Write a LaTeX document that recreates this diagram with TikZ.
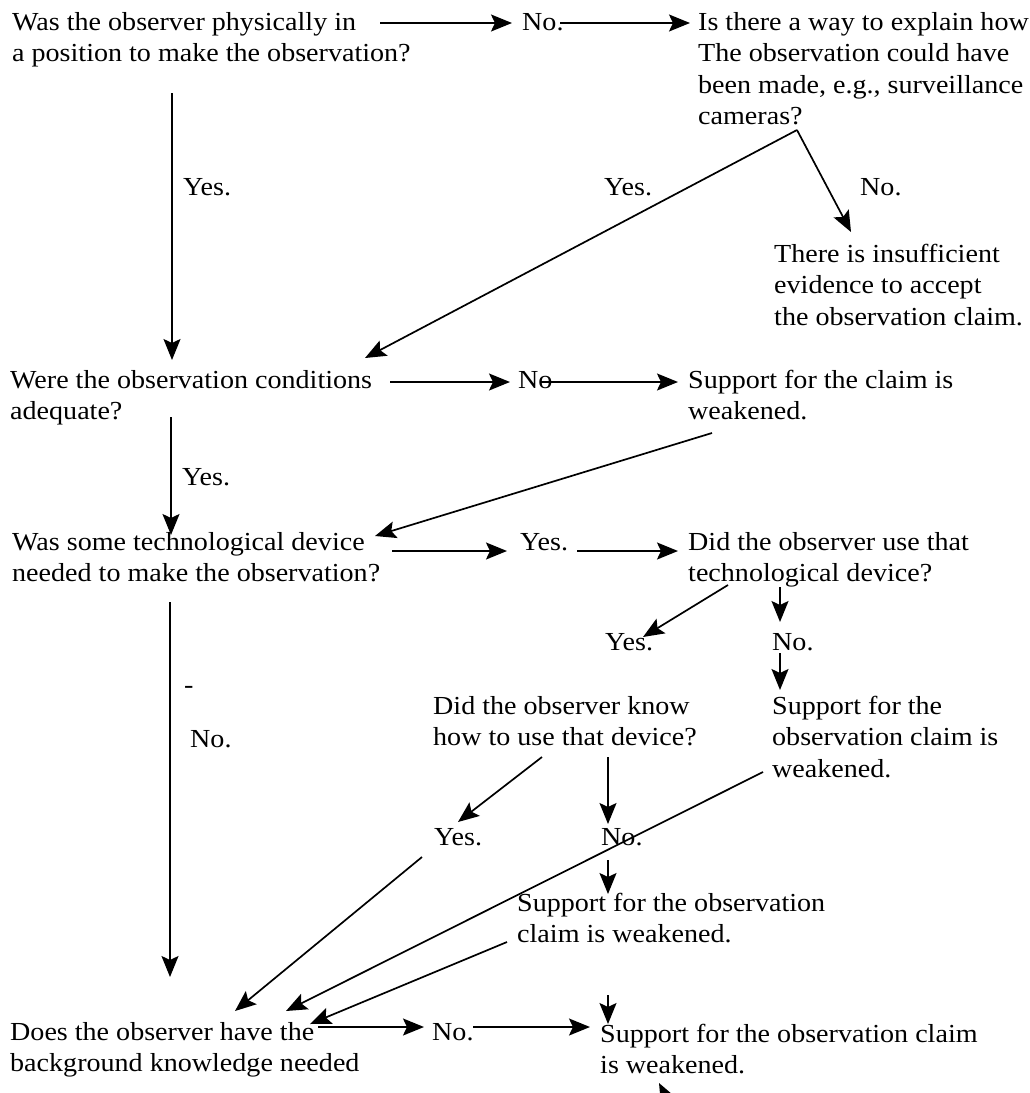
\documentclass[tikz,border=0pt]{standalone}
\usepackage{fontspec}
\setmainfont{Liberation Serif}[FakeStretch=1.08]
\usetikzlibrary{arrows.meta}
\begin{document}
\begin{tikzpicture}[x=1pt,y=-1pt,
  txt/.style={anchor=base west, inner sep=0pt, align=left, font=\fontsize{26}{31.5}\selectfont},
  arr/.style={-{Stealth[length=21pt,width=17pt,inset=4pt]}, line width=1.7pt}]
\useasboundingbox (0,0) rectangle (1029,1093);
\clip (0,0) rectangle (1029,1093);
% text nodes (anchor = baseline of the last line)
\node[txt] (q1) at (12,61.5) {Was the observer physically in\\a position to make the observation?};
\node[txt] (no1) at (522,30) {No.};
\node[txt] (q2) at (698,124.5) {Is there a way to explain how\\The observation could have\\been made, e.g., surveillance\\cameras?};
\node[txt] (yes1) at (183,195) {Yes.};
\node[txt] (yes2) at (604,195) {Yes.};
\node[txt] (no2) at (860,195) {No.};
\node[txt] (ins) at (774,325) {There is insufficient\\evidence to accept\\the observation claim.};
\node[txt] (q3) at (10,419.5) {Were the observation conditions\\adequate?};
\node[txt] (no3) at (518,388) {No};
\node[txt] (sup1) at (688,419.5) {Support for the claim is\\weakened.};
\node[txt] (yes4) at (182,485) {Yes.};
\node[txt] (q4) at (12,581.5) {Was some technological device\\needed to make the observation?};
\node[txt] (yes5) at (520,550) {Yes.};
\node[txt] (q5) at (688,581.5) {Did the observer use that\\technological device?};
\node[txt] (yes6) at (605,650) {Yes.};
\node[txt] (no4) at (772,650) {No.};
\node[txt] (q6) at (433,745.5) {Did the observer know\\how to use that device?};
\node[txt] (sup2) at (772,777) {Support for the\\observation claim is\\weakened.};
\node[txt] (dash) at (184,693) {-};
\node[txt] (no5) at (190,747) {No.};
\node[txt] (yes7) at (434,845) {Yes.};
\node[txt] (no6) at (601,845) {No.};
\node[txt] (sup3) at (517,942.5) {Support for the observation\\claim is weakened.};
\node[txt] (q7) at (10,1071.5) {Does the observer have the\\background knowledge needed};
\node[txt] (no7) at (432,1040) {No.};
\node[txt] (sup4) at (600,1073.5) {Support for the observation claim\\is weakened.};
% connector end points
\coordinate (a1s) at (380,23); \coordinate (a1e) at (512,23);
\coordinate (a2s) at (560,23); \coordinate (a2e) at (690,23);
\coordinate (v1s) at (172,93); \coordinate (v1e) at (172,360);
\coordinate (c0) at (797,130); \coordinate (c1) at (365,358); \coordinate (c2) at (851,232);
\coordinate (b1s) at (390,382); \coordinate (b1e) at (510,382);
\coordinate (b2s) at (540,382); \coordinate (b2e) at (678,382);
\coordinate (w1s) at (712,433); \coordinate (w1e) at (375,536);
\coordinate (v2s) at (171,417); \coordinate (v2e) at (171,535);
\coordinate (d1s) at (392,551); \coordinate (d1e) at (507,551);
\coordinate (d2s) at (577,551); \coordinate (d2e) at (678,551);
\coordinate (e1s) at (728,585); \coordinate (e1e) at (643,637);
\coordinate (e2s) at (780,587); \coordinate (e2e) at (780,622);
\coordinate (e3s) at (780,653); \coordinate (e3e) at (780,690);
\coordinate (v3s) at (170,602); \coordinate (v3e) at (170,977);
\coordinate (k1s) at (542,757); \coordinate (k1e) at (458,822);
\coordinate (k2s) at (608,757); \coordinate (k2e) at (608,824);
\coordinate (l1s) at (763,772); \coordinate (l1e) at (286,1011);
\coordinate (y3s) at (422,857); \coordinate (y3e) at (235,1011);
\coordinate (n6s) at (608,860); \coordinate (n6e) at (608,894);
\coordinate (s3s) at (507,942); \coordinate (s3e) at (310,1024);
\coordinate (f1s) at (318,1027); \coordinate (f1e) at (424,1027);
\coordinate (f2s) at (473,1027); \coordinate (f2e) at (590,1027);
\coordinate (f3s) at (608,995); \coordinate (f3e) at (608,1024);
\coordinate (g1s) at (674,1112); \coordinate (g1e) at (659,1083);
% connectors
\draw[arr] (a1s) -- (a1e);
\draw[arr] (a2s) -- (a2e);
\draw[arr] (v1s) -- (v1e);
\draw[arr] (c0) -- (c1);
\draw[arr] (c0) -- (c2);
\draw[arr] (b1s) -- (b1e);
\draw[arr] (b2s) -- (b2e);
\draw[arr] (w1s) -- (w1e);
\draw[arr] (v2s) -- (v2e);
\draw[arr] (d1s) -- (d1e);
\draw[arr] (d2s) -- (d2e);
\draw[arr] (e1s) -- (e1e);
\draw[arr] (e2s) -- (e2e);
\draw[arr] (e3s) -- (e3e);
\draw[arr] (v3s) -- (v3e);
\draw[arr] (k1s) -- (k1e);
\draw[arr] (k2s) -- (k2e);
\draw[arr] (l1s) -- (l1e);
\draw[arr] (y3s) -- (y3e);
\draw[arr] (n6s) -- (n6e);
\draw[arr] (s3s) -- (s3e);
\draw[arr] (f1s) -- (f1e);
\draw[arr] (f2s) -- (f2e);
\draw[arr] (f3s) -- (f3e);
\draw[arr] (g1s) -- (g1e);
\end{tikzpicture}
\end{document}
